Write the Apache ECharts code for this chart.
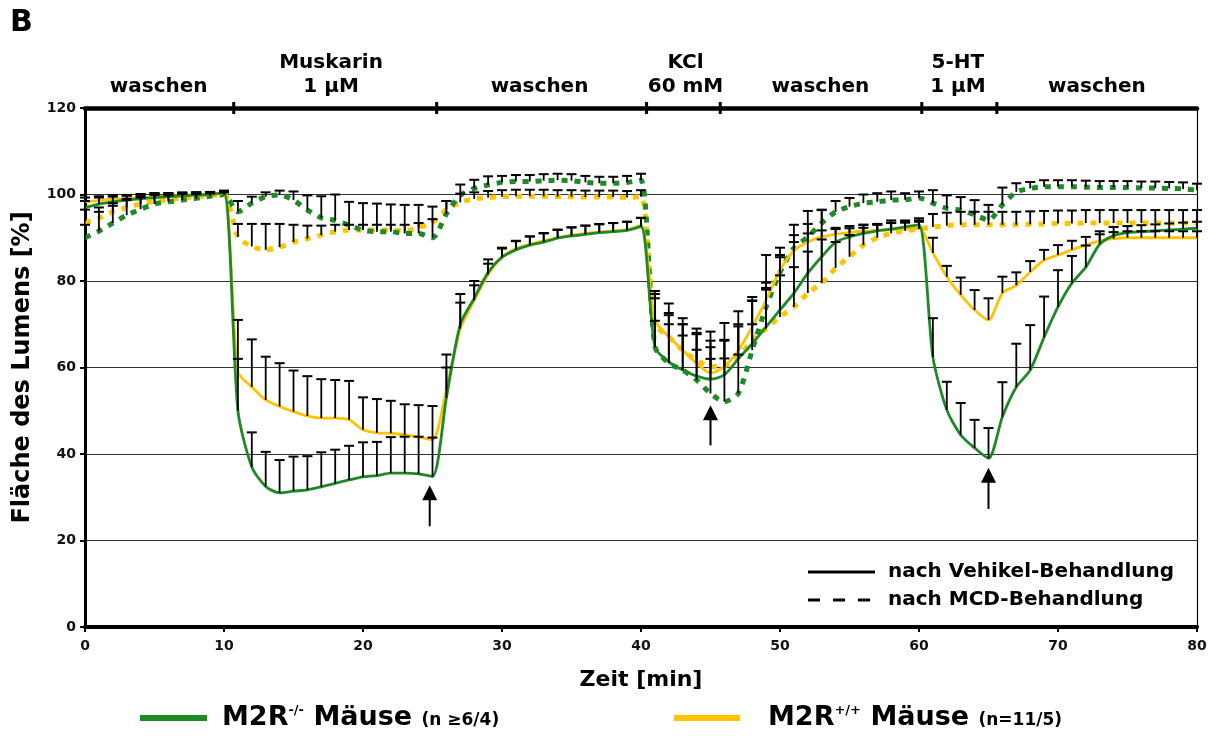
<!DOCTYPE html>
<html><head><meta charset="utf-8">
<script src="https://cdn.jsdelivr.net/npm/echarts@6/dist/echarts.min.js"></script>
<style>html,body{margin:0;padding:0;background:#fff}#c{width:1216px;height:742px}</style>
</head><body><div id="c"></div>
<script>
// ---- data ----
const times = [0,1,2,3,4,5,6,7,8,9,10,11,12,13,14,15,16,17,18,19,20,21,22,23,24,25,26,27,28,29,30,31,32,33,34,35,36,37,38,39,40,41,42,43,44,45,46,47,48,49,50,51,52,53,54,55,56,57,58,59,60,61,62,63,64,65,66,67,68,69,70,71,72,73,74,75,76,77,78,79,80];

// M2R-/- after vehicle (green solid)
const koVehicle = [97,97.8,98.3,98.7,99,99.3,99.5,99.7,99.9,100,100.4,
 50,37,32.5,31,31.4,31.7,32.4,33.2,34,34.7,35,35.6,35.6,35.4,34.8,
 53,70,76,82,85.5,87.2,88.3,89,89.9,90.4,90.8,91.2,91.4,91.7,92.6,
 64.7,61.3,59.4,58,57.3,58.3,62,65.5,69.4,73.3,77.2,81.8,85.6,89,90.2,91,91.6,92,92.5,93,
 62.4,50.2,44.4,41.4,39,48.6,55.5,59.4,67,74,79.5,83.2,88.5,90.5,91.2,91.4,91.6,91.8,92,92.2];
const koVehicleErr = [1.5,1.5,1.2,1,1,1,0.8,0.8,0.6,0.5,0.5,
 12,8,8,7.6,8,7.8,8,7.8,7.9,8,7.8,8.3,8.4,8.6,9,
 7,7,4,3,2.2,2,2,2,2,2,2,2,2,2,2,
 13,13.5,12,11,11,12,11,10,9,8,6,5,4,3,2,2,1.5,1.5,1.5,1.5,
 9,6.5,7.4,6.5,7,8,10,10.4,9.4,8.5,6.3,5,3,2,1.5,1.5,1.5,1.5,1.5,1.5];

// M2R+/+ after vehicle (yellow solid)
const wtVehicle = [98.3,98.6,98.9,99.1,99.3,99.5,99.6,99.8,99.9,100,100.3,
 59,55.5,52.5,51,49.8,48.8,48.3,48.3,47.9,45.6,44.9,44.8,44.4,43.9,43.3,
 55,69,75.5,81.5,85.5,87.5,88.5,89.3,90,90.6,91,91.3,91.6,91.9,92.8,
 71,67.1,64,61,58.7,60.2,64,69.4,75.6,82.5,87,89,90.2,90.8,91.2,91.5,91.7,91.9,92,92.2,
 86.5,81,76.8,73.3,71,77.2,79,82.1,84.8,86,87.2,88.3,89.3,89.8,90,90,90,90,90,90];
const wtVehicleErr = [1,1,1,0.8,0.8,0.6,0.6,0.5,0.5,0.5,0.5,
 12,11,10,10,9.5,9.2,9,8.8,9,7.5,7.8,7.5,7.1,7.4,7.8,
 8,6,3.5,2.5,2,1.8,1.8,1.8,1.8,1.8,1.8,1.8,1.8,1.8,1.8,
 6,5.5,6,7,6,6,6,6,4,3,2,2,1.5,1.5,1.5,1.5,1.5,1.5,1.5,1.5,
 3.5,2.5,4,4.6,5,3.8,3,2.5,2.4,2.3,2.1,1.9,1.5,1.5,1.5,1.5,1.5,1.5,1.5,1.5];

// M2R-/- after MCD (green dashed)
const koMCD = [90,91.5,93.4,95.2,96.6,97.8,98.3,98.7,99.1,99.6,100,
 96,98,99.5,99.9,98.7,96.4,94.6,94,92.9,91.8,91.4,91.4,91,91,90,
 95.5,99.8,101.4,102.2,102.8,103,103,103.2,103.3,103.2,102.8,102.6,102.6,102.8,103.3,
 64.8,61,59.4,57.1,54,52.1,54,64,74,82,87.6,90.2,93.4,96,97.2,98,98.3,98.7,98.8,99.2,
 98,96.8,96.4,95.3,94.1,97.6,100.6,101.4,101.8,101.8,101.8,101.7,101.6,101.6,101.6,101.5,101.5,101.4,101.3,101];
const koMCDErr = [3,4.5,4,3.5,3,2.5,2,1.5,1,1,0.5,
 2.5,1.5,1,1,2,3.4,5,6,5.4,6.2,6.5,6.3,6.6,6.6,7.2,
 3,2.5,2,2,1.5,1.5,1.5,1.5,1.5,1.5,1.5,1.5,1.5,1.5,1.5,
 6,9,8,7,8,10,9,6,4,4,3,3,3,2.5,2,2,2,2,1.5,1.5,
 3,3,3,3.4,3.5,4,2,1.5,1.5,1.5,1.5,1.5,1.5,1.5,1.5,1.5,1.5,1.5,1.5,1.5];

// M2R+/+ after MCD (yellow dashed)
const wtMCD = [93.5,94.5,96,97,97.8,98.4,98.8,99.2,99.5,99.8,100,
 90.2,88,87.2,87.8,89,89.8,90.6,91.4,91.8,91.8,91.8,91.8,91.6,92.4,93.5,
 96.5,98.2,99,99.3,99.5,99.6,99.6,99.6,99.5,99.5,99.4,99.4,99.4,99.3,99.5,
 70,67.1,64,61.7,60.2,60.4,62.5,66.3,69,71.7,74,77.2,79.5,83,85.6,88.3,90,91,91.6,92,
 92.5,92.8,93,93,93,93,93,93.1,93.2,93.3,93.3,93.4,93.4,93.4,93.4,93.4,93.4,93.4,93.4,93.4];
const wtMCDErr = [3,2.5,2,2,1.5,1.5,1,1,1,0.5,0.5,
 3,5.2,6,5.4,4,3,2.2,1.6,1.2,1.2,1.2,1.2,1.4,1,0.8,
 2,2,1.5,1.5,1.5,1.5,1.5,1.5,1.5,1.5,1.5,1.5,1.5,1.5,1.5,
 6,5,6,6,6,6,7,10,17,16,19,19,17,6,5,4,3,3,2,2,
 3,3,3,3,3,3,3,3,3,3,3,3,3,3,3,3,3,3,3,3];

// phases on top bar
const phaseNames = ['waschen', 'Muskarin\n1 µM', 'waschen', 'KCl\n60 mM', 'waschen', '5-HT\n1 µM', 'waschen'];
const phaseCenters = [5.3, 17.7, 32.7, 43.2, 52.9, 62.8, 72.8];
const phaseTicks = [10.7, 25.3, 40.4, 45.7, 60.2, 65.6];

// arrows: [time, from, to]
const arrows = [[24.8, 23.3, 32.8], [45.0, 42.0, 51.3], [65.0, 27.3, 36.8]];

const yTicks = [0, 20, 40, 60, 80, 100, 120];
const xTicks = [0, 10, 20, 30, 40, 50, 60, 70, 80];

// ---- chart ----
const GREEN = '#1E8A26', YELLOW = '#FFC400';
const FONT = 'DejaVu Sans';
const chart = echarts.init(document.getElementById('c'));

function lineSeries(vals, color, dashed) {
  return {
    type: 'line', data: times.map((t, i) => [t, vals[i]]), showSymbol: false, smooth: 0.25,
    z: dashed ? 2 : 3, silent: true,
    lineStyle: dashed ? { color, width: 5, type: [6, 7], cap: 'butt' } : { color, width: 2.8 }
  };
}
function errSeries(vals, errs) {
  return {
    type: 'custom', z: 4, silent: true, clip: false,
    data: times.map((t, i) => [t, vals[i], vals[i] + errs[i]]),
    encode: { x: 0, y: [1, 2] },
    renderItem: (params, api) => {
      const a = api.coord([api.value(0), api.value(1)]);
      const b = api.coord([api.value(0), api.value(2)]);
      return { type: 'group', children: [
        { type: 'line', shape: { x1: a[0], y1: a[1], x2: b[0], y2: b[1] }, style: { stroke: '#000', lineWidth: 1.8 } },
        { type: 'line', shape: { x1: b[0] - 5, y1: b[1], x2: b[0] + 5, y2: b[1] }, style: { stroke: '#000', lineWidth: 2 } }
      ]};
    }
  };
}

const richLegend = {
  a: { fontFamily: FONT, fontWeight: 'bold', fontSize: 27, fill: '#000', lineHeight: 32, verticalAlign: 'middle' },
  s: { fontFamily: FONT, fontWeight: 'bold', fontSize: 13, fill: '#000', lineHeight: 32, verticalAlign: 'top', padding: [2, 0, 0, 0] },
  b: { fontFamily: FONT, fontWeight: 'bold', fontSize: 17, fill: '#000', lineHeight: 32, verticalAlign: 'middle', padding: [6, 0, 0, 0] }
};

const option = {
  backgroundColor: '#fff',
  animation: false,
  textStyle: { fontFamily: FONT },
  grid: { left: 85, right: 19, top: 108, bottom: 115, show: false },
  xAxis: [{
    type: 'value', min: 0, max: 80, interval: 10, position: 'bottom',
    name: 'Zeit [min]', nameLocation: 'middle', nameGap: 42,
    nameTextStyle: { fontFamily: FONT, fontWeight: 'bold', fontSize: 22, color: '#000' },
    axisLine: { show: true, onZero: false, lineStyle: { color: '#000', width: 4 } },
    axisTick: { show: true, length: 5, lineStyle: { color: '#000', width: 2 } },
    axisLabel: { margin: 12, fontFamily: FONT, fontWeight: 'bold', fontSize: 14, color: '#111',
      formatter: v => xTicks.includes(v) ? String(v) : '' },
    splitLine: { show: false }
  }, {
    type: 'value', min: 0, max: 80, position: 'top',
    axisLine: { show: true, onZero: false, lineStyle: { color: '#000', width: 4.5 } },
    axisTick: { show: false }, axisLabel: { show: false }, splitLine: { show: false }
  }],
  yAxis: [{
    type: 'value', min: 0, max: 120, interval: 20, position: 'left',
    name: 'Fläche des Lumens [%]', nameLocation: 'middle', nameGap: 50,
    nameTextStyle: { fontFamily: FONT, fontWeight: 'bold', fontSize: 24, color: '#000' },
    axisLine: { show: true, onZero: false, lineStyle: { color: '#000', width: 3 } },
    axisTick: { show: true, length: 5, lineStyle: { color: '#000', width: 2 } },
    axisLabel: { margin: 9, fontFamily: FONT, fontWeight: 'bold', fontSize: 14, color: '#111',
      formatter: v => yTicks.includes(v) ? String(v) : '' },
    splitLine: { show: true, lineStyle: { color: '#333', width: 1 } }
  }, {
    type: 'value', min: 0, max: 120, position: 'right',
    axisLine: { show: true, onZero: false, lineStyle: { color: '#000', width: 1.2 } },
    axisTick: { show: false }, axisLabel: { show: false }, splitLine: { show: false }
  }],
  series: [
    lineSeries(wtMCD, YELLOW, true),
    lineSeries(koMCD, GREEN, true),
    lineSeries(wtVehicle, YELLOW, false),
    lineSeries(koVehicle, GREEN, false),
    errSeries(wtMCD, wtMCDErr),
    errSeries(koMCD, koMCDErr),
    errSeries(wtVehicle, wtVehicleErr),
    errSeries(koVehicle, koVehicleErr),
    { // phase tick marks on top bar
      type: 'custom', z: 6, silent: true, clip: false,
      data: phaseTicks.map(t => [t, 120]),
      renderItem: (params, api) => {
        const p = api.coord([api.value(0), api.value(1)]);
        return { type: 'rect', shape: { x: p[0] - 1.5, y: p[1] - 6, width: 3, height: 12 }, style: { fill: '#000' } };
      }
    },
    { // phase labels
      type: 'scatter', z: 6, silent: true, clip: false, symbolSize: 0,
      itemStyle: { opacity: 1, color: '#000' },
      data: phaseCenters.map((t, i) => [t, 120, phaseNames[i]]),
      label: { show: true, position: 'top', distance: 9, formatter: p => p.data[2],
        fontFamily: FONT, fontWeight: 'bold', fontSize: 20, lineHeight: 24, color: '#000',
        opacity: 1, textBorderWidth: 0, align: 'center' }
    },
    { // arrows
      type: 'custom', z: 7, silent: true, clip: false,
      data: arrows,
      renderItem: (params, api) => {
        const a = api.coord([api.value(0), api.value(1)]);
        const b = api.coord([api.value(0), api.value(2)]);
        return { type: 'group', children: [
          { type: 'line', shape: { x1: a[0], y1: a[1], x2: b[0], y2: b[1] + 10 }, style: { stroke: '#000', lineWidth: 2 } },
          { type: 'polygon', shape: { points: [[b[0], b[1]], [b[0] - 7.5, b[1] + 15], [b[0] + 7.5, b[1] + 15]] }, style: { fill: '#000' } }
        ]};
      }
    }
  ],
  graphic: [
    { type: 'text', left: 10, top: 8, style: { text: 'B', font: 'bold 30px "DejaVu Sans"', fill: '#000' } },
    // inner legend
    { type: 'line', shape: { x1: 808, y1: 572, x2: 875, y2: 572 }, style: { stroke: '#000', lineWidth: 3 } },
    { type: 'line', shape: { x1: 808, y1: 600, x2: 870, y2: 600 }, style: { stroke: '#000', lineWidth: 3, lineDash: [12, 13] } },
    { type: 'text', x: 888, y: 572, style: { text: 'nach Vehikel-Behandlung', font: 'bold 20px "DejaVu Sans"', fill: '#000', verticalAlign: 'middle' } },
    { type: 'text', x: 888, y: 600, style: { text: 'nach MCD-Behandlung', font: 'bold 20px "DejaVu Sans"', fill: '#000', verticalAlign: 'middle' } },
    // bottom legend
    { type: 'rect', shape: { x: 140, y: 715, width: 67, height: 6 }, style: { fill: GREEN } },
    { type: 'text', x: 222, y: 718, style: {
      text: '{a|M2R}{s|-/-}{a| Mäuse }{b|(n ≥6/4)}', verticalAlign: 'middle', rich: richLegend } },
    { type: 'rect', shape: { x: 674, y: 715, width: 66, height: 6 }, style: { fill: YELLOW } },
    { type: 'text', x: 768, y: 718, style: {
      text: '{a|M2R}{s|+/+}{a| Mäuse }{b|(n=11/5)}', verticalAlign: 'middle', rich: richLegend } }
  ]
};
chart.setOption(option);
</script>
</body></html>
